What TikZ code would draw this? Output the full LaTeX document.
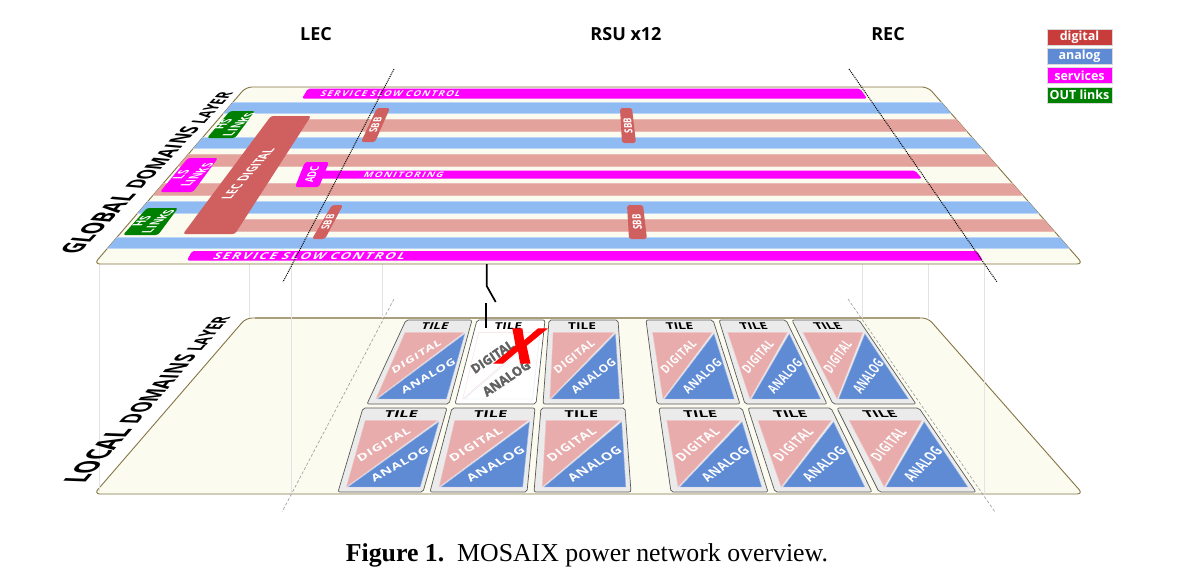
\documentclass[tikz,border=0pt]{standalone}
\usepackage{fontspec}
\setmainfont{Open Sans}
\newfontfamily\capfont{Liberation Serif}
\newfontfamily\deadfont{Open Sans}[BoldFeatures={FakeBold=2}]
\newfontfamily\widefont{Open Sans}[LetterSpace=15]
\newfontfamily\tilefont{Open Sans}[LetterSpace=5]
\definecolor{cream}{HTML}{FBFBEF}
\definecolor{platebd}{HTML}{857545}
\definecolor{barblue}{HTML}{90BBF2}
\definecolor{barred}{HTML}{E3A39C}
\definecolor{slabred}{HTML}{D06060}
\definecolor{legred}{HTML}{C83C3C}
\definecolor{legblue}{HTML}{5F8BD4}
\definecolor{linkgreen}{HTML}{008000}
\definecolor{purem}{HTML}{FF00FF}
\definecolor{tpink}{HTML}{E8ACAC}
\definecolor{tblue}{HTML}{5F8BD4}
\definecolor{tfill}{HTML}{EBEBEB}
\colorlet{tpinkb}{tpink!60!white}
\colorlet{tblueb}{tblue!60!white}
\colorlet{ttxt}{white}
\tikzset{
  plate/.style={fill=cream,draw=platebd,line width=0.9pt,rounded corners=6pt},
  bluebar/.style={fill=barblue,draw=barblue!60!white,line width=0.4pt},
  redbar/.style={fill=barred,draw=barred!75!white,line width=0.4pt},
  svc/.style={fill=purem,rounded corners=2pt},
  lecslab/.style={fill=slabred,rounded corners=2.5pt},
  greenslab/.style={fill=linkgreen,rounded corners=2.5pt},
  magslab/.style={fill=purem,rounded corners=2.5pt},
  faint/.style={draw=black!11,line width=0.7pt},
  cutline/.style={draw=black,line width=1pt,densely dotted},
  cutfaint/.style={draw=black!40,line width=0.6pt,densely dashed},
  swline/.style={draw=black,line width=1.7pt},
  warpnode/.style={inner sep=0pt,transform shape,align=center,font=\fontsize{10}{12}\selectfont\bfseries,text=white},
  legend/.style={minimum width=65pt,minimum height=16pt,inner sep=0pt,text=white,font=\fontsize{12.5}{12.5}\selectfont\bfseries,draw=white!70!gray,line width=0.4pt},
  header/.style={inner sep=0pt,font=\fontsize{18}{18}\selectfont\bfseries,text=black}
}
% warp[opts]{name}{x}{y}{ax}{ay}{ux}{uy}{text}: along and up vectors given in screen px (y down)
\newcommand{\warp}[8][]{%
  \pgfmathsetmacro\qa{#5}\pgfmathsetmacro\qb{-(#6)}%
  \pgfmathsetmacro\qc{#7}\pgfmathsetmacro\qd{-(#8)}%
  \warpnext{#1}{#2}{#3}{#4}}
\newcommand{\warpnext}[5]{%
  \node[warpnode,cm={\qa,\qb,\qc,\qd,(#3,#4)},#1] (#2) at (0,0) {#5};}
\newcommand{\tp}[2]{({(1-(#2))*(\tla+(#1)*(\tra-\tla))+(#2)*(\bla+(#1)*(\bra-\bla))},{\ya+(#2)*(\yb-\ya)})}
\def\upk{1.0}
\def\dgu{.375}\def\dgv{.435}\def\agu{.63}\def\agv{.667}
\newcommand{\tptext}[6]{% name, uc, vc, unused, text, font
  \pgfmathsetmacro\qcx{(1-(#3))*(\tra-\tla)+(#3)*(\bra-\bla)}%
  \pgfmathsetmacro\qdx{(\bla+(#2)*(\bra-\bla))-(\tla+(#2)*(\tra-\tla))}%
  \pgfmathsetmacro\qh{\yb-\ya}%
  \pgfmathsetmacro\px{(1-(#3))*(\tla+(#2)*(\tra-\tla))+(#3)*(\bla+(#2)*(\bra-\bla))}%
  \pgfmathsetmacro\py{\ya+(#3)*\qh}%
  \pgfmathsetmacro\qa{.0121*\qcx-.0083*\qdx}\pgfmathsetmacro\qb{.0083*\qh}%
  \pgfmathsetmacro\qc{\upk*(-.00974*\qcx-.00978*\qdx)}\pgfmathsetmacro\qd{\upk*.00978*\qh}%
  \node[warpnode,text=ttxt,cm={\qa,\qb,\qc,\qd,(\px,\py)}] (#1) at (0,0) {#6#5};}
\newcommand{\tile}[8][\tilefont\bfseries]{% font, name, tl,tr,br,bl,y1,y2
  \def\tla{#3}\def\tra{#4}\def\bra{#5}\def\bla{#6}\def\ya{#7}\def\yb{#8}%
  \fill[tfill,draw=black!65,line width=0.7pt,rounded corners=2pt]
    (\tla,\ya)--(\tra,\ya)--(\bra,\yb)--(\bla,\yb)--cycle;
  \filldraw[fill=tpink,draw=tpinkb,line width=0.4pt] \tp{.07}{.147}--\tp{.935}{.147}--\tp{.08}{.94}--cycle;
  \filldraw[fill=tblue,draw=tblueb,line width=0.4pt] \tp{.95}{.165}--\tp{.95}{.94}--\tp{.10}{.94}--cycle;
  \tptext{#2d}{\dgu}{\dgv}{}{DIGITAL}{#1}
  \tptext{#2a}{\agu}{\agv}{}{ANALOG}{#1}
  % title
  \pgfmathsetmacro\qcx{.925*(\tra-\tla)+.075*(\bra-\bla)}%
  \pgfmathsetmacro\qsh{((\tla+\tra)-(\bla+\bra))/(2*(\yb-\ya))}%
  \pgfmathsetmacro\qa{.0195*\qcx}\pgfmathsetmacro\qc{.95*\qsh}%
  \pgfmathsetmacro\px{.925*(\tla+.48*(\tra-\tla))+.075*(\bla+.48*(\bra-\bla))}%
  \pgfmathsetmacro\py{\ya+.075*(\yb-\ya)}%
  \node[warpnode,text=black,cm={\qa,0,\qc,.95,(\px,\py)}] (#2t) at (0,0) {TILE};}
\begin{document}
\begin{tikzpicture}[x=1pt,y=-1pt]
\useasboundingbox (0,0) rectangle (1184,576);
\fill[white] (0,0) rectangle (1184,576);
% local plate
\draw[plate] (246,318)--(928,318)--(1083,494)--(94,494)--cycle;
\draw[draw=platebd!70!white,line width=1.4pt] (255,318)--(920,318);
% faint verticals
\foreach \xv/\ye in {99/491,249/318,291/494,382.5/318,862/318,928/318,984/494}
  \draw[faint] (\xv,264)--(\xv,\ye);
% global plate
\draw[plate] (246,87)--(928,87)--(1083,264)--(94,264)--cycle;
\begin{scope}
  \clip[rounded corners=6pt] (246,87)--(928,87)--(1083,264)--(94,264)--cycle;
  \foreach \ya/\yb in {102/113,137/148,201/213,237/248}
    \filldraw[bluebar] (90,\ya) rectangle (1090,\yb);
  \filldraw[redbar] (280,119) rectangle (1090,131);
  \filldraw[redbar] (90,154) rectangle (1090,166);
  \filldraw[redbar] (90,183) rectangle (1090,195);
  \filldraw[redbar] (220,219) rectangle (1090,231);
\end{scope}
% service bars
\fill[svc] (308,88.5)--(860,88.5)--(867,98.5)--(302,98.5)--cycle;
\fill[svc] (192,251)--(977,251)--(983,260.5)--(187,260.5)--cycle;
\fill[svc] (318,170.5)--(915,170.5)--(922,178.5)--(315,178.5)--cycle;
\warp[font=\fontsize{10}{12}\selectfont\widefont\bfseries]{svctop}{391}{94}{.95}{0}{.4}{-.8}{SERVICE SLOW CONTROL}
\warp[font=\fontsize{10}{12}\selectfont\widefont\bfseries]{svcbot}{310}{255.7}{1.3}{0}{.6}{-.95}{SERVICE SLOW CONTROL}
\warp[font=\fontsize{10}{12}\selectfont\widefont\bfseries]{moni}{404}{174.5}{.98}{0}{.4}{-.75}{MONITORING}
% slabs
\fill[lecslab] (271,116)--(311,116)--(235,234)--(183,234)--cycle;
\warp{lecd}{248}{174}{.76}{-.85}{-1.4}{0}{LEC DIGITAL}
\fill[greenslab] (230,111)--(255,111)--(235,138)--(207,138)--cycle;
\warp{hstop}{231}{124.5}{.88}{-.79}{-1.35}{0}{HS\\LINKS}
\fill[magslab] (188,158)--(218,158)--(193,192)--(160,192)--cycle;
\warp{lsl}{189}{175}{.88}{-.79}{-1.35}{0}{LS\\LINKS}
\fill[greenslab] (147,208)--(178,208)--(158,235)--(123,235)--cycle;
\warp{hsbot}{150}{221.5}{.88}{-.79}{-1.35}{0}{HS\\LINKS}
\fill[magslab] (305,162)--(329,162)--(319,187)--(295,187)--cycle;
\warp{adc}{312}{174.5}{.33}{-.8}{-1.2}{0}{ADC}
\fill[lecslab] (377,108)--(390,108)--(375,142)--(361,142)--cycle;
\warp{sbba}{375.5}{125}{.33}{-.8}{-1.1}{0}{SBB}
\fill[lecslab] (332,205)--(343,205)--(325,239)--(312,239)--cycle;
\warp{sbbb}{328}{222}{.38}{-.8}{-1.1}{0}{SBB}
\fill[lecslab] (620,108)--(632,108)--(636,143)--(622,143)--cycle;
\warp{sbbc}{628}{125.5}{-.07}{-.8}{-1.1}{0}{SBB}
\fill[lecslab] (627,205)--(643,205)--(647,239)--(629,239)--cycle;
\warp{sbbd}{637}{222}{-.09}{-.8}{-1.2}{0}{SBB}
% upper cut lines
\draw[cutline] (394,69)--(283,282);
\draw[cutline] (849,69)--(997,282);
% tiles
\tile{ta}{406}{472}{449}{367}{320}{404}
\begin{scope}
  \definecolor{tfill}{HTML}{FFFFFF}
  \definecolor{tpink}{HTML}{FFFFFF}
  \definecolor{tblue}{HTML}{FFFFFF}
  \definecolor{tpinkb}{HTML}{FADDDD}
  \definecolor{tblueb}{HTML}{DDE6F7}
  \colorlet{ttxt}{black!62}
  \def\upk{1.3}\def\dgu{.34}\def\dgv{.437}\def\agu{.58}\def\agv{.694}
  \tile[\deadfont\bfseries]{tb}{477}{545}{536}{455}{320}{404}
\end{scope}
\tile{tc}{549}{618}{624}{543}{320}{404}
\tile{td}{363}{447}{423}{338}{408}{492}
\tile{te}{452}{535}{527}{430}{408}{492}
\tile{tf}{541}{625}{631}{534}{408}{492}
\tile{tg}{646}{713}{740}{657}{320}{404}
\tile{th}{719}{786}{827}{745}{320}{404}
\tile{ti}{792}{859}{916}{833}{320}{404}
\tile{tj}{659}{742}{768}{671}{408}{492}
\tile{tk}{748}{831}{872}{775}{408}{492}
\tile{tl}{837}{919}{976}{879}{408}{492}
% lower cut lines
\draw[cutfaint] (394,299)--(282,512);
\draw[cutfaint] (848,299)--(995,512);
% red X
\warp[font=\fontsize{10}{12}\selectfont\deadfont\bfseries,text=red]{xmark}{521}{346}{5.3}{0}{2.5}{-4.8}{X}
% switch
\coordinate (swa) at (486.7,264);
\coordinate (swb) at (486.7,286);
\coordinate (swc) at (495.7,302);
\coordinate (swd) at (485.7,303);
\coordinate (swe) at (485.7,328);
\draw[swline] (swa)--(swb)--(swc);
\draw[swline] (swd)--(swe);
% layer labels
\warp[anchor=base west,text=black]{glob}{78}{255}{1.23}{-1.28}{-2.3}{-.2}{\fontsize{12}{12}\selectfont GLOBAL \fontsize{10}{12}\selectfont DOMAINS \fontsize{8}{12}\selectfont LAYER}
\warp[anchor=base west,text=black]{locl}{84}{484}{1.25}{-1.42}{-2.6}{-.1}{\fontsize{12}{12}\selectfont LOCAL \fontsize{10}{12}\selectfont DOMAINS \fontsize{8}{12}\selectfont LAYER}
% headers
\node[header] (lec) at (316,34) {LEC};
\node[header] (rsu) at (626,34) {RSU x12};
\node[header] (rec) at (888,34) {REC};
% legend
\node[legend,fill=legred] (lga) at (1079.5,37) {digital};
\node[legend,fill=legblue] (lgb) at (1079.5,56) {analog};
\node[legend,fill=purem] (lgc) at (1079.5,75.5) {services};
\node[legend,fill=linkgreen] (lgd) at (1079.5,95) {OUT links};
% caption
\node[inner sep=0pt,font=\capfont\fontsize{25.8}{26}\selectfont] (cap) at (587,555) {\textbf{Figure 1.}\ \ MOSAIX power network overview.};
\end{tikzpicture}
\end{document}
